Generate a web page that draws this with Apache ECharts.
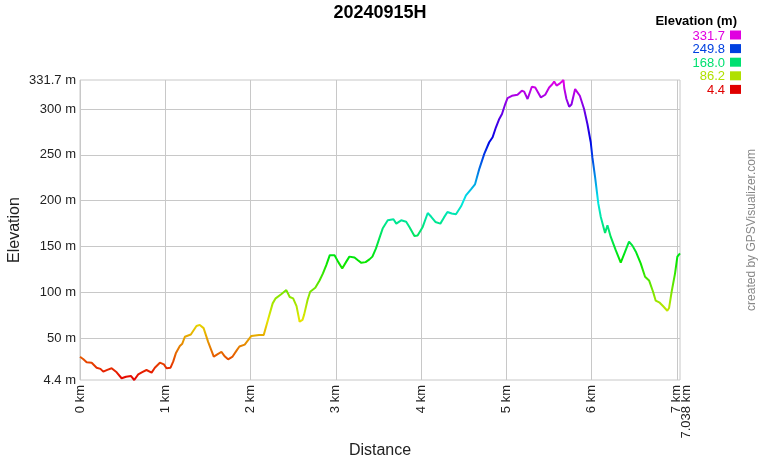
<!DOCTYPE html>
<html><head><meta charset="utf-8">
<script src="https://cdn.jsdelivr.net/npm/echarts@6/dist/echarts.min.js"></script>
<style>html,body{margin:0;padding:0;background:#fff}#c{width:760px;height:460px}</style>
</head><body><div id="c"></div>
<script>
const titleText = '20240915H';
const xAxisName = 'Distance';
const yAxisName = 'Elevation';
const creditText = 'created by GPSVisualizer.com';

const distKm = [
  0.000,0.040,0.078,0.137,0.195,0.240,0.273,0.320,0.371,0.430,0.488,0.540,0.597,0.636,0.683,0.730,
  0.780,0.840,0.878,0.937,0.984,1.015,1.062,1.093,1.124,1.171,1.200,1.230,1.300,1.366,1.405,1.450,
  1.503,1.569,1.620,1.659,1.700,1.737,1.790,1.840,1.870,1.932,2.010,2.100,2.155,2.205,2.260,2.295,
  2.360,2.420,2.460,2.500,2.540,2.576,2.610,2.630,2.670,2.700,2.760,2.810,2.850,2.890,2.930,2.986,
  3.030,3.076,3.120,3.160,3.220,3.260,3.300,3.350,3.395,3.430,3.472,3.510,3.550,3.610,3.677,3.710,
  3.767,3.826,3.864,3.923,3.960,4.020,4.079,4.120,4.169,4.227,4.270,4.310,4.360,4.410,4.470,4.527,
  4.586,4.633,4.684,4.742,4.800,4.840,4.879,4.918,4.950,4.988,5.015,5.066,5.132,5.183,5.210,5.250,
  5.300,5.340,5.406,5.457,5.503,5.540,5.562,5.590,5.630,5.671,5.680,5.706,5.738,5.765,5.808,5.863,
  5.913,5.952,5.991,6.010,6.042,6.080,6.109,6.159,6.187,6.226,6.284,6.343,6.393,6.440,6.480,6.520,
  6.577,6.628,6.675,6.722,6.753,6.800,6.838,6.889,6.910,6.940,6.980,7.007,7.038
];
const elevM = [
  29.8,27.0,23.7,23.3,17.8,16.5,13.5,15.5,17.2,12.8,6.3,8.0,8.8,4.4,10.6,13.0,
  15.3,12.4,17.8,23.3,21.5,17.2,17.8,24.4,33.5,41.5,44.0,51.6,54.0,63.3,64.5,61.0,
  46.0,30.0,33.0,35.0,30.0,27.0,30.0,37.0,41.0,43.0,52.5,53.5,53.6,70.0,88.0,93.5,
  98.0,102.5,95.0,93.5,85.0,68.0,70.0,76.0,92.0,100.7,105.0,113.0,120.7,130.0,140.6,140.6,
  133.0,126.0,133.0,139.0,138.0,135.0,132.2,133.0,136.0,139.0,148.0,158.7,169.6,178.6,179.7,175.0,
  178.6,177.0,171.4,161.6,162.0,171.4,186.6,182.5,176.8,175.0,181.8,187.7,186.0,185.2,193.9,205.8,
  212.3,217.8,234.8,251.1,263.8,269.2,280.1,289.2,294.6,305.5,312.0,314.5,315.6,320.0,319.0,311.0,
  324.3,323.5,312.7,315.6,323.5,327.0,330.0,325.6,328.0,331.7,323.0,311.0,302.6,305.0,321.8,314.5,
  300.0,283.7,263.8,247.5,225.7,196.8,182.2,164.9,173.2,160.5,146.0,132.5,144.2,155.3,151.0,144.4,
  131.7,117.1,113.0,100.7,90.9,88.7,85.1,80.0,83.0,100.7,120.8,139.0,142.6
];

const xTickKm = [0,1,2,3,4,5,6,7];
const xEndKm = [7.038];
const yLabelM = [4.4,50,100,150,200,250,300,331.7];
const yGridM = [50,100,150,200,250,300];
const elevMin = 4.4;
const elevMax = 331.7;

const legendTitle = 'Elevation (m)';
const legendValues = ['331.7','249.8','168.0','86.2','4.4'];
const legendColors = ['#e000e0','#0040e0','#00e070','#b0e000','#e00000'];
const rampColors = ['#e60000','#e6e600','#00e600','#00e6e6','#0000e6','#e600e6'];

const FONT = "'Liberation Sans', Arial, sans-serif";
const chart = echarts.init(document.getElementById('c'), null, {renderer:'canvas'});

const legendGraphics = [{
  type:'text', right: 23, top: 15,
  style:{text: legendTitle, font: 'bold 13px ' + FONT, fill:'#000'}
}];
legendValues.forEach((v,i)=>{
  legendGraphics.push({
    type:'text', right: 35, top: 29.5 + i*13.6,
    style:{text: v, font: '13px ' + FONT, fill: legendColors[i]}
  });
  legendGraphics.push({
    type:'rect', left: 730, top: 30.5 + i*13.6,
    shape:{width:11, height:9},
    style:{fill: legendColors[i]}
  });
});
legendGraphics.push({
  type:'text', x: 752, y: 230, rotation: Math.PI/2,
  style:{text: creditText, font: '12px ' + FONT, fill:'#888', align:'center', verticalAlign:'middle'}
});
legendGraphics.push({
  type:'text', x: 15, y: 230, rotation: Math.PI/2,
  style:{text: yAxisName, font: '16px ' + FONT, fill:'#222', align:'center', verticalAlign:'middle'}
});

const option = {
  animation:false,
  backgroundColor:'#fff',
  title:{text: titleText, left:'center', top: 4, padding:0,
    textStyle:{fontFamily: FONT, fontSize:18, fontWeight:'bold', color:'#000'}},
  grid:{left:80, top:80, right:80, bottom:80, containLabel:false, outerBoundsMode:'none',
    show:true, borderColor:'#c8c8c8', borderWidth:1, backgroundColor:'transparent'},
  visualMap:{type:'continuous', show:false, dimension:1, seriesIndex:0, min: elevMin, max: elevMax,
    inRange:{color: rampColors}},
  xAxis:[{
    type:'value', min:0, max: xEndKm[0],
    name: xAxisName, nameLocation:'middle', nameGap: 63,
    nameTextStyle:{fontFamily: FONT, fontSize:16, color:'#222'},
    axisLine:{show:false}, 
    axisTick:{show:false, customValues: xTickKm},
    splitLine:{show:true, lineStyle:{color:'#c8c8c8', width:1}},
    axisLabel:{customValues: xTickKm, rotate:90, margin:5, fontFamily: FONT, fontSize:13, color:'#222',
      formatter: v => v + ' km'}
  },{
    type:'value', min:0, max: xEndKm[0], position:'bottom',
    axisLine:{show:false}, axisTick:{show:false, customValues: xEndKm}, splitLine:{show:false},
    axisLabel:{customValues: xEndKm, rotate:90, margin:5, verticalAlign:'top', fontFamily: FONT, fontSize:13, color:'#222',
      formatter: v => v + ' km'}
  }],
  yAxis:{
    type:'value', min: elevMin, max: elevMax,
    axisLine:{show:false},
    axisTick:{show:false, customValues: yGridM},
    splitLine:{show:true, lineStyle:{color:'#c8c8c8', width:1}},
    axisLabel:{customValues: yLabelM, margin:4, fontFamily: FONT, fontSize:13, color:'#222',
      formatter: v => v + ' m'}
  },
  series:[{
    type:'line', xAxisIndex:0, yAxisIndex:0, showSymbol:false, symbol:'none',
    lineStyle:{width:2}, data: distKm.map((d,i)=>[d, elevM[i]])
  }],
  graphic: legendGraphics
};
chart.setOption(option);
</script></body></html>
